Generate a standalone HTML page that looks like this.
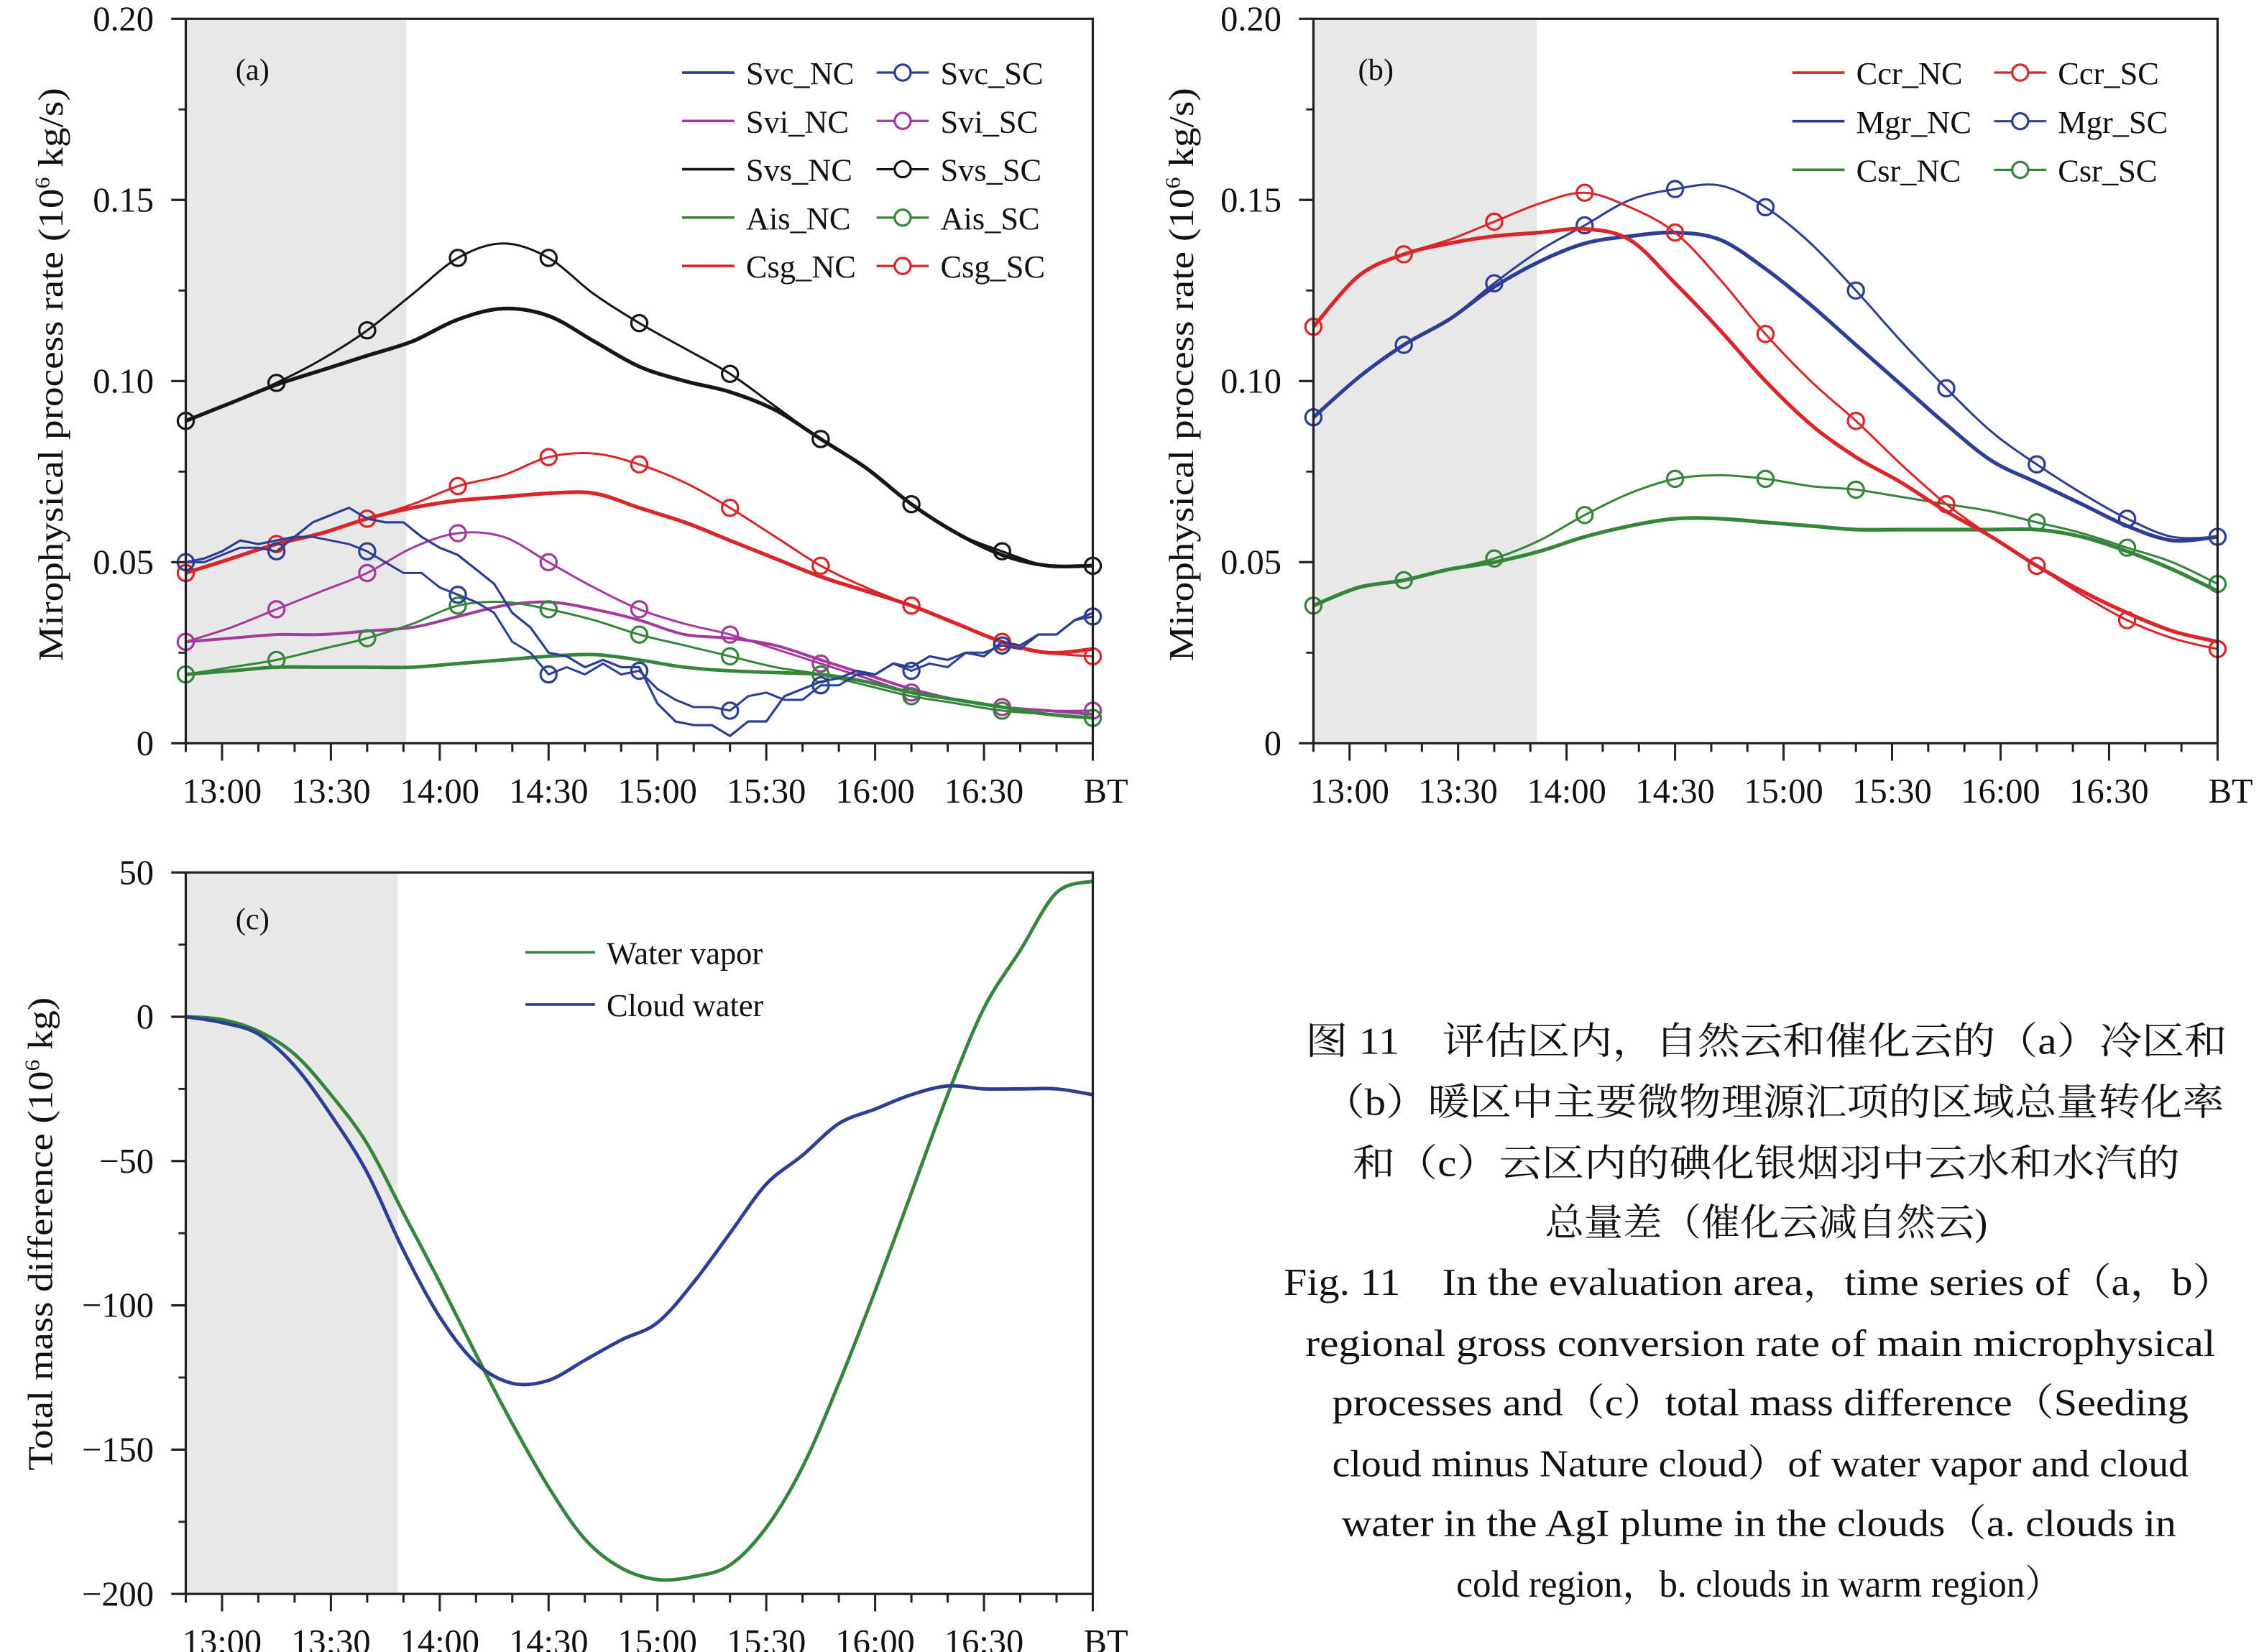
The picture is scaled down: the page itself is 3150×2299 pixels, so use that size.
<!DOCTYPE html>
<html><head><meta charset="utf-8"><style>
html,body{margin:0;padding:0;background:#fff;}
svg{display:block;font-family:"Liberation Serif","Noto Serif CJK SC",serif;}
</style></head><body>
<svg id="fig" width="3150" height="2299" viewBox="0 0 1560 1138" preserveAspectRatio="none" xmlns="http://www.w3.org/2000/svg">
<g id="caption" font-size="26" fill="#111" text-anchor="middle">
<text x="1217" y="726" textLength="635" lengthAdjust="spacingAndGlyphs" font-family="Liberation Serif, Noto Serif CJK SC, serif">图 11　评估区内，自然云和催化云的（a）冷区和</text>
<text x="1222" y="768" textLength="621" lengthAdjust="spacingAndGlyphs" font-family="Liberation Serif, Noto Serif CJK SC, serif">（b）暖区中主要微物理源汇项的区域总量转化率</text>
<text x="1217" y="810" textLength="570" lengthAdjust="spacingAndGlyphs" font-family="Liberation Serif, Noto Serif CJK SC, serif">和（c）云区内的碘化银烟羽中云水和水汽的</text>
<text x="1217" y="851" textLength="305" lengthAdjust="spacingAndGlyphs" font-family="Liberation Serif, Noto Serif CJK SC, serif">总量差（催化云减自然云)</text>
<text x="1212" y="892" textLength="655" lengthAdjust="spacingAndGlyphs">Fig. 11　In the evaluation area，time series of（a，b）</text>
<text x="1213" y="934" textLength="627" lengthAdjust="spacingAndGlyphs">regional gross conversion rate of main microphysical</text>
<text x="1213" y="975" textLength="590" lengthAdjust="spacingAndGlyphs">processes and（c）total mass difference（Seeding</text>
<text x="1213" y="1017" textLength="590" lengthAdjust="spacingAndGlyphs">cloud minus Nature cloud）of water vapor and cloud</text>
<text x="1212" y="1058" textLength="575" lengthAdjust="spacingAndGlyphs">water in the AgI plume in the clouds（a. clouds in</text>
<text x="1212" y="1100" textLength="417" lengthAdjust="spacingAndGlyphs">cold region，b. clouds in warm region）</text>
</g>
</svg>
<script>
// ---- data: time in minutes after 12:50 ----
const tSmooth = [0,12.5,25,37.5,50,62.5,75,87.5,100,112.5,125,137.5,150,162.5,175,187.5,200,212.5,225,237.5,250];
const tJag = [0,5,10,15,20,25,30,35,40,45,50,55,60,65,70,75,80,85,90,95,100,105,110,115,120,125,130,135,140,145,150,155,160,165,170,175,180,185,190,195,200,205,210,215,220,225,230,235,240,245,250];
const tC = [0,10,20,30,40,50,60,70,80,90,100,110,120,130,140,150,160,170,180,190,200,210,220,230,240,250];
const markerTimes = [0,25,50,75,100,125,150,175,200,225,250];
const xTickLabels = ["13:00","13:30","14:00","14:30","15:00","15:30","16:00","16:30","BT"];
const yTicksAB = [0,0.05,0.10,0.15,0.20];
const yTickLabelsAB = ["0","0.05","0.10","0.15","0.20"];
const yTicksC = [50,0,-50,-100,-150,-200];
const yTickLabelsC = ["50","0","\u221250","\u2212100","\u2212150","\u2212200"];

const svcNC = [.050,.051,.053,.056,.055,.056,.057,.061,.063,.065,.062,.061,.061,.057,.054,.052,.048,.044,.036,.032,.025,.024,.021,.023,.021,.021,.011,.006,.005,.005,.002,.006,.006,.013,.015,.017,.018,.020,.019,.022,.021,.024,.023,.025,.024,.028,.027,.030,.030,.034,.036];
const svcSC = [.050,.050,.052,.054,.054,.053,.057,.057,.056,.055,.053,.050,.047,.047,.043,.041,.039,.036,.028,.025,.019,.021,.019,.022,.019,.020,.015,.012,.010,.010,.009,.013,.014,.012,.012,.016,.016,.019,.019,.022,.020,.022,.021,.025,.025,.027,.026,.030,.030,.034,.035];
const sviNC = [.028,.029,.030,.030,.031,.032,.035,.038,.039,.037,.034,.030,.029,.027,.023,.019,.015,.012,.010,.009,.008];
const sviSC = [.028,.032,.037,.042,.047,.054,.058,.057,.050,.043,.037,.033,.030,.026,.022,.018,.014,.012,.010,.009,.009];
const svsNC = [.089,.094,.099,.103,.107,.111,.117,.120,.118,.111,.104,.100,.097,.092,.084,.076,.066,.058,.052,.049,.049];
const svsSC = [.089,.094,.0995,.106,.114,.124,.134,.138,.134,.124,.116,.109,.102,.093,.084,.076,.066,.058,.053,.049,.049];
const aisNC = [.019,.020,.021,.021,.021,.021,.022,.023,.024,.0245,.023,.021,.020,.0195,.019,.017,.014,.012,.010,.008,.007];
const aisSC = [.019,.021,.023,.026,.029,.033,.038,.039,.037,.034,.030,.027,.024,.021,.019,.016,.013,.011,.009,.008,.007];
const csgNC = [.047,.051,.055,.058,.062,.065,.067,.068,.069,.069,.065,.061,.056,.051,.046,.042,.038,.033,.028,.025,.026];
const csgSC = [.047,.051,.055,.058,.062,.066,.071,.074,.079,.080,.077,.072,.065,.057,.049,.043,.038,.033,.028,.025,.024];

const ccrNC = [.115,.129,.135,.138,.140,.141,.142,.139,.127,.114,.100,.088,.079,.072,.064,.057,.049,.042,.036,.031,.028];
const ccrSC = [.115,.129,.135,.139,.144,.149,.152,.148,.141,.128,.113,.100,.089,.077,.066,.057,.049,.041,.034,.029,.026];
const mgrNC = [.090,.101,.110,.117,.126,.133,.138,.140,.141,.139,.131,.121,.110,.099,.088,.078,.072,.066,.060,.056,.057];
const mgrSC = [.090,.101,.110,.117,.127,.136,.143,.150,.153,.154,.148,.138,.125,.111,.098,.086,.077,.069,.062,.057,.057];
const csrNC = [.038,.043,.045,.048,.050,.053,.057,.060,.062,.062,.061,.060,.059,.059,.059,.059,.059,.057,.053,.048,.042];
const csrSC = [.038,.043,.045,.048,.051,.056,.063,.069,.073,.074,.073,.071,.070,.068,.066,.064,.061,.058,.054,.050,.044];

const waterVapor = [0,-1,-5,-13,-27,-44,-68,-92,-117,-141,-163,-181,-191,-195,-194,-190,-177,-156,-127,-95,-61,-27,3,23,43,47];
const cloudWater = [0,-2,-6,-17,-34,-54,-81,-104,-120,-127,-126,-119,-112,-106,-92,-75,-58,-48,-37,-32,-27,-24,-25,-25,-25,-27];

const C = {blue:"#2d3f95",mag:"#a43a9e",blk:"#161616",grn:"#35863a",red:"#d9262a"};
const NS = "http://www.w3.org/2000/svg";
const svg = document.getElementById('fig');
function mk(tag, attrs, parent){const e=document.createElementNS(NS,tag);for(const k in attrs)e.setAttribute(k,attrs[k]);(parent||svg).appendChild(e);return e;}

function interp(ts, vs, t){for(let i=0;i<ts.length-1;i++){if(t>=ts[i]&&t<=ts[i+1]){const f=(t-ts[i])/(ts[i+1]-ts[i]);return vs[i]+f*(vs[i+1]-vs[i]);}}return vs[vs.length-1];}

function makePanel(p){
  p.sx = t => p.x0 + (p.x1-p.x0)*t/250;
  p.sy = v => p.y1 - (p.y1-p.y0)*(v-p.vmin)/(p.vmax-p.vmin);
  const g = mk('g',{});
  
  
  const sh = mk('rect',{x:p.x0,y:p.y0,width:p.shadeX-p.x0,height:p.y1-p.y0,fill:"#e8e8e8"},g);
  
  
  p.g = g;
  return p;
}
function drawAxes(p, yt, ytl, minorStep){
  const g = p.g;
  const fr = mk('rect',{x:p.x0,y:p.y0,width:p.x1-p.x0,height:p.y1-p.y0,fill:"none",stroke:"#222","stroke-width":1.6},g);
  
  
  const ya = mk('g',{},g);
  
  
  for(let v=p.vmin; v<=p.vmax+1e-9; v+=minorStep){
    const y=p.sy(v);
    mk('line',{x1:p.x0-5,x2:p.x0,y1:y,y2:y,stroke:"#222","stroke-width":1.4},ya);
  }
  yt.forEach((v,i)=>{
    const y=p.sy(v);
    mk('line',{x1:p.x0-10,x2:p.x0,y1:y,y2:y,stroke:"#222","stroke-width":1.6},ya);
    const tx=mk('text',{x:p.x0-22,y:y+8,"font-size":24,"text-anchor":"end",fill:"#111"},ya);
    tx.textContent=ytl[i];
    
    
  });
  const xa = mk('g',{},g);
  
  
  for(let t=0;t<=250;t+=10){
    const x=p.sx(t); const major=((t-10)%30===0);
    mk('line',{x1:x,x2:x,y1:p.y1,y2:p.y1+(major?12:6),stroke:"#222","stroke-width":1.5},xa);
  }
  xTickLabels.forEach((l,i)=>{
    const x=p.sx(10+30*i);
    const tx=mk('text',{x:Math.min(x,p.x1)+(l==="BT"?9:0),y:p.y1+41,"font-size":24,"text-anchor":"middle",fill:"#111"},xa);
    tx.textContent=l;
    
    
  });
}
function smoothPath(p, ts, vs){
  const pts = ts.map((t,i)=>[p.sx(t),p.sy(vs[i])]);
  let d = "M"+pts[0][0].toFixed(1)+","+pts[0][1].toFixed(1);
  for(let i=0;i<pts.length-1;i++){
    const p0=pts[Math.max(0,i-1)],p1=pts[i],p2=pts[i+1],p3=pts[Math.min(pts.length-1,i+2)];
    const c1=[p1[0]+(p2[0]-p0[0])/6,p1[1]+(p2[1]-p0[1])/6];
    const c2=[p2[0]-(p3[0]-p1[0])/6,p2[1]-(p3[1]-p1[1])/6];
    d+=` C${c1[0].toFixed(1)},${c1[1].toFixed(1)} ${c2[0].toFixed(1)},${c2[1].toFixed(1)} ${p2[0].toFixed(1)},${p2[1].toFixed(1)}`;
  }
  return d;
}
function linePath(p, ts, vs){return ts.map((t,i)=>(i?"L":"M")+p.sx(t).toFixed(1)+","+p.sy(vs[i]).toFixed(1)).join(" ");}
function series(p, name, ts, vs, color, w, smooth, markers){
  const g = mk('g',{},p.g);
  
  
  mk('path',{d: smooth?smoothPath(p,ts,vs):linePath(p,ts,vs), fill:"none", stroke:color, "stroke-width":w, "stroke-linejoin":"round"}, g);
  if(markers){
    markerTimes.forEach(t=>{
      const c = mk('circle',{cx:p.sx(t),cy:p.sy(interp(ts,vs,t)),r:5.5,fill:"none",stroke:color,"stroke-width":1.6},g);
      
      
    });
  }
}
function legendEntry(p, x, y, label, color, w, marker, lineLen){
  const g = mk('g',{},p.g);
  
  
  mk('line',{x1:x,x2:x+lineLen,y1:y,y2:y,stroke:color,"stroke-width":w},g);
  if(marker) mk('circle',{cx:x+lineLen/2,cy:y,r:5.5,fill:"#fff",stroke:color,"stroke-width":1.6},g);
  const tx = mk('text',{x:x+lineLen+8,y:y+8,"font-size":22,fill:"#111"},g);
  tx.textContent = label;
}
function panelLabel(p, x, y, s){
  const tx = mk('text',{x:x,y:y,"font-size":21,"text-anchor":"middle",fill:"#111"},p.g);
  tx.textContent = s;
  
  
}
function yTitle(p, x, yc, len, main, sup, tail){
  const tx = mk('text',{transform:`translate(${x},${yc}) rotate(-90)`,"font-size":24,"text-anchor":"middle",fill:"#111",textLength:len,lengthAdjust:"spacingAndGlyphs"},p.g);
  
  
  const a=mk('tspan',{},tx); a.textContent=main;
  const b=mk('tspan',{dy:-9,"font-size":14},tx); b.textContent=sup;
  const c=mk('tspan',{dy:9},tx); c.textContent=tail;
}

// ---- panel a ----
const pa = makePanel({name:'panel-a-cold-region',x0:128,x1:753,y0:13,y1:512,vmin:0,vmax:0.2,shadeX:280});
series(pa,'svs-nc',tSmooth,svsNC,C.blk,2.6,true,false);
series(pa,'svs-sc',tSmooth,svsSC,C.blk,1.5,true,true);
series(pa,'csg-nc',tSmooth,csgNC,C.red,2.6,true,false);
series(pa,'csg-sc',tSmooth,csgSC,C.red,1.5,true,true);
series(pa,'svi-nc',tSmooth,sviNC,C.mag,2.0,true,false);
series(pa,'svi-sc',tSmooth,sviSC,C.mag,1.5,true,true);
series(pa,'ais-nc',tSmooth,aisNC,C.grn,2.4,true,false);
series(pa,'ais-sc',tSmooth,aisSC,C.grn,1.5,true,true);
series(pa,'svc-nc',tJag,svcNC,C.blue,1.6,false,false);
series(pa,'svc-sc',tJag,svcSC,C.blue,1.5,false,true);
drawAxes(pa,yTicksAB,yTickLabelsAB,0.025);
panelLabel(pa,174,55,"(a)");
yTitle(pa,43,258,395,"Mirophysical process rate (10","6"," kg/s)");
[["Svc_NC","Svc_SC",C.blue],["Svi_NC","Svi_SC",C.mag],["Svs_NC","Svs_SC",C.blk],["Ais_NC","Ais_SC",C.grn],["Csg_NC","Csg_SC",C.red]].forEach((r,i)=>{
  const y=50+33.3*i;
  legendEntry(pa,470,y,r[0],r[2],1.8,false,36);
  legendEntry(pa,604,y,r[1],r[2],1.6,true,36);
});

// ---- panel b ----
const pb = makePanel({name:'panel-b-warm-region',x0:905,x1:1528,y0:13,y1:512,vmin:0,vmax:0.2,shadeX:1059});
series(pb,'csr-nc',tSmooth,csrNC,C.grn,2.6,true,false);
series(pb,'csr-sc',tSmooth,csrSC,C.grn,1.5,true,true);
series(pb,'mgr-nc',tSmooth,mgrNC,C.blue,2.6,true,false);
series(pb,'mgr-sc',tSmooth,mgrSC,C.blue,1.5,true,true);
series(pb,'ccr-nc',tSmooth,ccrNC,C.red,2.6,true,false);
series(pb,'ccr-sc',tSmooth,ccrSC,C.red,1.5,true,true);
drawAxes(pb,yTicksAB,yTickLabelsAB,0.025);
panelLabel(pb,948,55,"(b)");
yTitle(pb,822,258,395,"Mirophysical process rate (10","6"," kg/s)");
[["Ccr_NC","Ccr_SC",C.red],["Mgr_NC","Mgr_SC",C.blue],["Csr_NC","Csr_SC",C.grn]].forEach((r,i)=>{
  const y=50+33.5*i;
  legendEntry(pb,1235,y,r[0],r[2],1.8,false,36);
  legendEntry(pb,1374,y,r[1],r[2],1.6,true,36);
});

// ---- panel c ----
const pc = makePanel({name:'panel-c-mass-difference',x0:128,x1:753,y0:601,y1:1098,vmin:-200,vmax:50,shadeX:274});
series(pc,'water-vapor',tC,waterVapor,C.grn,2.4,true,false);
series(pc,'cloud-water',tC,cloudWater,C.blue,2.4,true,false);
drawAxes(pc,yTicksC,yTickLabelsC,25);
panelLabel(pc,174,640,"(c)");
yTitle(pc,36,850,326,"Total mass difference (10","6"," kg)");
legendEntry(pc,362,656,"Water vapor",C.grn,1.8,false,48);
legendEntry(pc,362,692,"Cloud water",C.blue,1.8,false,48);
</script>
</body></html>
